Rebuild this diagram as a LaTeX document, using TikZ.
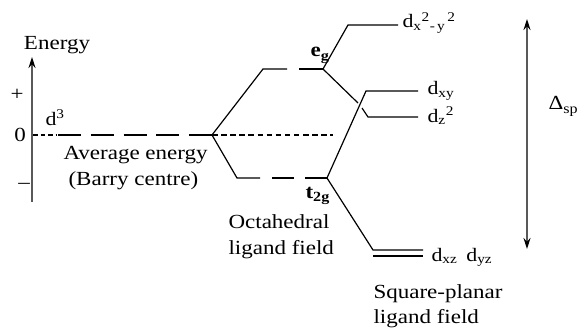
\documentclass[tikz,border=0pt]{standalone}
\usepackage{fontspec}
\setmainfont{Liberation Serif}[FakeStretch=1.15]
\usetikzlibrary{arrows.meta}
\begin{document}
\begin{tikzpicture}[x=1pt,y=-1pt,
  line width=1.1pt,
  txt/.style={inner sep=0pt, font=\fontsize{20}{22}\selectfont},
  dlab/.style={inner sep=0pt, font=\fontsize{19}{21}\selectfont},
  axisline/.style={line width=1.4pt, draw=black!65},
  tip/.style={-{Stealth[length=11pt,width=7pt,color=black]}},
  lvl/.style={line width=1.2pt},
  dotline/.style={line width=1.1pt, dash pattern=on 5.5pt off 3.6pt},
  d3line/.style={line width=1.2pt, dash pattern=on 23pt off 9.75pt}]
\useasboundingbox (0,0) rectangle (587,329);
% axis
\coordinate (ax0) at (32,202);
\coordinate (ax1) at (32,57);
\draw[axisline, tip] (ax0) -- (ax1);
\node[txt, anchor=base] (energy) at (57,50) {Energy};
\node[txt, anchor=base] (plus) at (17,101) {+};
\node[txt, anchor=base] (zero) at (20,142) {0};
\node[txt, anchor=base] (minus) at (24,188) {–};
% average energy line
\coordinate (z0) at (33,135);
\coordinate (z1) at (57,135);
\coordinate (d3a) at (58,135);
\coordinate (avg) at (212,135);
\coordinate (z2) at (333,135);
\draw[line width=1.1pt, dash pattern=on 4.5pt off 3pt] (z0) -- (z1);
\draw[d3line] (d3a) -- (avg);
\draw[dotline] (avg) -- (z2);
\node[dlab, anchor=base west] (d3) at (45,125) {d\textsuperscript{3}};
\node[txt, anchor=base west] (avgtxt) at (63,160) {Average energy};
\node[txt, anchor=base west] (barry) at (68,185) {(Barry centre)};
% octahedral levels
\coordinate (eg0) at (263,69);
\coordinate (eg1) at (287,69);
\coordinate (eg2) at (299,69);
\coordinate (eg) at (323,69);
\coordinate (t0) at (237,178);
\coordinate (t1) at (260,178);
\coordinate (t2) at (272,178);
\coordinate (t3) at (294,178);
\coordinate (t4) at (305,178);
\coordinate (t2g) at (327,178);
\draw[lvl] (avg) -- (eg0) -- (eg1);
\draw[lvl] (eg2) -- (eg);
\draw[lvl] (avg) -- (t0) -- (t1);
\draw[line width=2pt] (t2) -- (t3);
\draw[lvl] (t4) -- (t2g);
\node[txt, anchor=base west] (eglab) at (310,57) {\textbf{e\textsubscript{g}}};
\node[txt, anchor=base west] (t2glab) at (305,198) {\textbf{t\textsubscript{2g}}};
\node[txt, anchor=base west] (oct1) at (228,228) {Octahedral};
\node[txt, anchor=base west] (oct2) at (228,254) {ligand field};
% square planar levels
\coordinate (x2a) at (348,25);
\coordinate (x2b) at (398,25);
\coordinate (z2a) at (358,103);
\coordinate (z2b) at (362,108);
\coordinate (z2c) at (368,117);
\coordinate (z2d) at (418,117);
\coordinate (xya) at (366,91);
\coordinate (xyb) at (418,91);
\coordinate (xza) at (373,250);
\coordinate (xzb) at (423,250);
\coordinate (xzc) at (373,256);
\coordinate (xzd) at (423,256);
\draw[lvl] (eg) -- (x2a) -- (x2b);
\draw[lvl] (eg) -- (z2a);
\draw[lvl] (z2b) -- (z2c) -- (z2d);
\draw[lvl] (t2g) -- (xya) -- (xyb);
\draw[lvl] (t2g) -- (xza) -- (xzb);
\draw[line width=1.8pt] (xzc) -- (xzd);
\node[dlab, anchor=base west] (lx2) at (402,28) {d\textsubscript{x}\textsuperscript{2}\textsubscript{-\,y}\textsuperscript{\,2}};
\node[dlab, anchor=base west] (lxy) at (427,95) {d\textsubscript{xy}};
\node[dlab, anchor=base west] (lz2) at (427,122) {d\textsubscript{z}\textsuperscript{2}};
\node[dlab, anchor=base west] (lxz) at (431,261) {d\textsubscript{xz}\hspace{9pt}d\textsubscript{yz}};
\node[txt, anchor=base west] (sp1) at (373,298) {Square-planar};
\node[txt, anchor=base west] (sp2) at (373,323) {ligand field};
% splitting arrow
\coordinate (ar0) at (527,19);
\coordinate (ar1) at (527,249);
\draw[axisline, {Stealth[length=11pt,width=7pt,color=black]}-{Stealth[length=11pt,width=7pt,color=black]}] (ar0) -- (ar1);
\node[txt, anchor=base west] (dsp) at (548,110) {Δ\textsubscript{sp}};
\end{tikzpicture}
\end{document}
